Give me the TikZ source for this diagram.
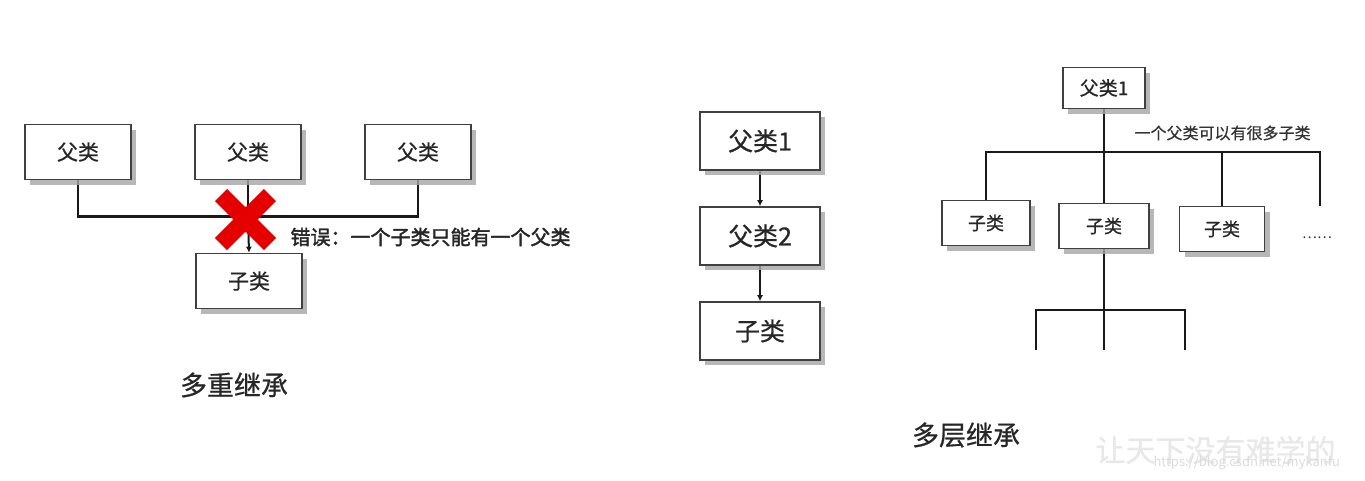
\documentclass[tikz,border=0pt]{standalone}
\usepackage{fontspec}
\setmainfont{Noto Sans CJK SC}
\newfontfamily\cjk{Noto Sans CJK SC}[FakeBold=0.6]
\newfontfamily\cjkbold{Noto Sans CJK SC}[FakeBold=2]
\usetikzlibrary{arrows.meta,shadows}
\pgfdeclarelayer{wires}
\pgfsetlayers{wires,main}
\begin{document}
\begin{tikzpicture}[x=1pt,y=-1pt,
  classbox/.style={draw=black!75, line width=1.6pt, fill=white, inner sep=0pt,
    text=black!85, font=\cjk\fontsize{#1}{#1}\selectfont,
    drop shadow={shadow xshift=5pt, shadow yshift=-5pt, fill=black!35, opacity=0.8}},
  classbox/.default=21,
  link/.style={draw=black!90, line width=2.6pt},
  tip/.style={-{Latex[length=6pt,width=6pt]}},
  caption/.style={text=black!85, font=\cjk\fontsize{27}{27}\selectfont},
  note/.style={text=black!85, font=\cjkbold\fontsize{#1}{#1}\selectfont}
]
\useasboundingbox (0,0) rectangle (1365,480);

% ---------- multiple inheritance (not allowed) ----------
\node[classbox, minimum width=106pt, minimum height=55pt] (p1) at (78,152) {父类};
\node[classbox, minimum width=106pt, minimum height=55pt] (p2) at (248,152) {父类};
\node[classbox, minimum width=106pt, minimum height=55pt] (p3) at (418,152) {父类};
\node[classbox, minimum width=106pt, minimum height=55pt] (ch) at (249,281) {子类};
\coordinate (j1) at (248,216);
\node[note=20, anchor=west] (err) at (287,237) {错误：一个子类只能有一个父类};
\node[caption] (cap1) at (234,385) {多重继承};

% ---------- multilevel inheritance ----------
\node[classbox=25, minimum width=120pt, minimum height=58pt] (m1) at (760,141) {父类1};
\node[classbox=25, minimum width=120pt, minimum height=58pt] (m2) at (760,236) {父类2};
\node[classbox=25, minimum width=120pt, minimum height=58pt] (m3) at (760,331) {子类};

% ---------- one parent, many children ----------
\node[classbox=19, minimum width=82pt, minimum height=41pt] (rp) at (1104,88) {父类1};
\node[classbox=18, minimum width=88pt, minimum height=45pt] (ra) at (986,223) {子类};
\node[classbox=18, minimum width=90pt, minimum height=45pt] (rb) at (1104,226) {子类};
\node[classbox=18, minimum width=85pt, minimum height=45pt] (rc) at (1222,229) {子类};
\coordinate (rend) at (1320,152);
\coordinate (rdrop) at (1320,206);
\node[text=black!80, font=\cjk\fontsize{16}{16}\selectfont, anchor=west] (many) at (1131,133) {一个父类可以有很多子类};
\node[text=black!80, font=\fontsize{14}{14}\selectfont] (dots) at (1317,238) {……};
\coordinate (rk) at (1104,310);
\coordinate (rl) at (1036,350);
\coordinate (rm) at (1104,350);
\coordinate (rr) at (1185,350);
\node[caption] (cap2) at (966,435) {多层继承};

% ---------- connectors, kept underneath the boxes ----------
\begin{pgfonlayer}{wires}
\fill[white] (0,0) rectangle (1365,480);
\draw[link] (p1.south) -- ++(0,36) -| (p3.south);
\draw[link] (p2.south) -- (j1);
\draw[link, line width=2pt, tip] (j1) -- (ch.north);

\draw[link, line width=2pt, tip] (m1.south) -- (m2.north);
\draw[link, line width=2pt, tip] (m2.south) -- (m3.north);

\draw[link] (ra.north) |- (rend) -- (rdrop);
\draw[link] (rp.south) -- (rb.north);
\draw[link] (rc.north) -- (rc.north |- rend);
\draw[link] (rb.south) -- (rm);
\draw[link] (rl) |- (rk) -| (rr);
\end{pgfonlayer}

% red cross over the junction
\draw[red!90!black, line width=17pt] (221,195) -- (270,244) (270,195) -- (221,244);

% ---------- faint watermark ----------
\node[text=black!9, font=\cjk\fontsize{30}{30}\selectfont, anchor=west] (wm) at (1092,450) {让天下没有难学的};
\node[text=black!14, font=\fontsize{13}{13}\selectfont, anchor=west] (url) at (1150,463) {https://blog.csdn.net/mykanfu};
\end{tikzpicture}
\end{document}
